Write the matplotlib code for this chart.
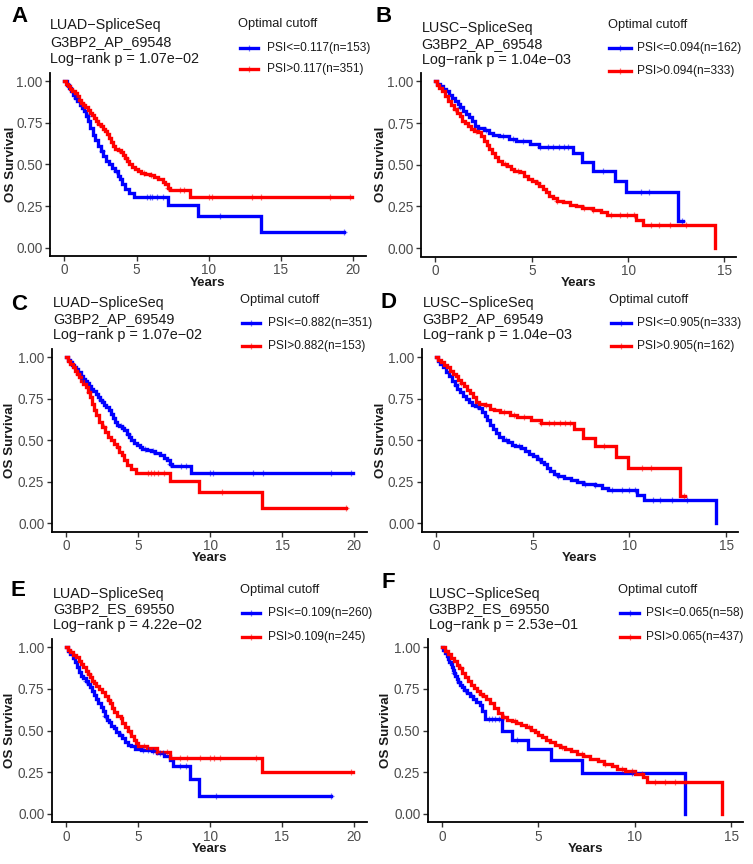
import numpy as np
import matplotlib
matplotlib.use("Agg")
import matplotlib.pyplot as plt
from matplotlib.lines import Line2D

plt.rcParams['font.family'] = ['Liberation Sans', 'DejaVu Sans']

# ---------------- data (step times, survival after step, end time, censor times) -------------
# LUAD G3BP2_AP_69548 : low PSI group (n=153)
luad_ap_low_t = [0, 0.15, 0.3, 0.45, 0.6, 0.75, 0.9, 1.05, 1.2, 1.35, 1.5, 1.65, 1.8, 1.95, 2.1, 2.3,
                 2.5, 2.7, 2.9, 3.1, 3.3, 3.5, 3.7, 3.85, 4.0, 4.2, 4.5, 4.85, 7.2, 9.25, 13.6]
luad_ap_low_s = [1.0, 0.98, 0.96, 0.94, 0.92, 0.90, 0.88, 0.86, 0.84, 0.82, 0.79, 0.76, 0.72, 0.68, 0.65, 0.61,
                 0.58, 0.55, 0.52, 0.50, 0.48, 0.46, 0.43, 0.41, 0.38, 0.35, 0.33, 0.305, 0.255, 0.19, 0.095]
luad_ap_low_end = 19.4
luad_ap_low_cens = [0.8, 1.6, 2.6, 3.6, 5.7, 5.9, 6.1, 6.4, 6.8, 10.8, 19.4]

# LUAD G3BP2_AP_69548 : high PSI group (n=351)
luad_ap_high_t = [0, 0.1, 0.25, 0.4, 0.55, 0.7, 0.85, 1.0, 1.15, 1.3, 1.45, 1.6, 1.75, 1.9, 2.05, 2.2, 2.35,
                  2.5, 2.65, 2.8, 2.95, 3.1, 3.25, 3.4, 3.5, 3.7, 3.9, 4.05, 4.2, 4.35, 4.5, 4.7, 4.9, 5.1,
                  5.3, 5.6, 5.9, 6.2, 6.5, 6.8, 7.0, 7.2, 7.35, 8.7]
luad_ap_high_s = [1.0, 0.985, 0.97, 0.955, 0.94, 0.93, 0.91, 0.89, 0.87, 0.855, 0.845, 0.83, 0.81, 0.795, 0.78,
                  0.76, 0.745, 0.73, 0.715, 0.70, 0.685, 0.66, 0.635, 0.61, 0.595, 0.585, 0.575, 0.56, 0.54,
                  0.52, 0.505, 0.485, 0.47, 0.46, 0.45, 0.44, 0.435, 0.425, 0.41, 0.395, 0.38, 0.36, 0.345, 0.305]
luad_ap_high_end = 19.9
luad_ap_high_cens = [1.2, 2.4, 3.8, 4.3, 5.5, 6.0, 7.2, 8.0, 8.3, 10.0, 10.2, 13.0, 13.65, 18.4, 19.8]

# LUSC G3BP2_AP_69548 : low PSI group (n=162)
lusc_ap_low_t = [0, 0.1, 0.25, 0.4, 0.55, 0.7, 0.85, 1.0, 1.15, 1.3, 1.45, 1.6, 1.75, 1.9, 2.05, 2.2, 2.5,
                 2.8, 3.0, 3.3, 3.8, 4.2, 4.9, 5.4, 7.15, 7.6, 8.2, 9.3, 9.9, 12.6]
lusc_ap_low_s = [1.0, 0.985, 0.97, 0.955, 0.94, 0.92, 0.90, 0.885, 0.865, 0.845, 0.825, 0.805, 0.785, 0.76,
                 0.73, 0.72, 0.71, 0.69, 0.68, 0.67, 0.655, 0.64, 0.625, 0.605, 0.57, 0.515, 0.465, 0.40,
                 0.335, 0.165]
lusc_ap_low_end = 12.85
lusc_ap_low_cens = [1.3, 2.6, 3.5, 4.0, 4.56, 5.43, 5.86, 6.1, 6.4, 6.65, 6.9, 8.7, 10.65, 11.1, 12.8]

# LUSC G3BP2_AP_69548 : high PSI group (n=333)
lusc_ap_high_t = [0, 0.1, 0.2, 0.35, 0.5, 0.65, 0.8, 0.95, 1.1, 1.25, 1.4, 1.55, 1.7, 1.85, 2.0, 2.2, 2.35,
                  2.5, 2.65, 2.8, 2.95, 3.1, 3.25, 3.45, 3.7, 3.9, 4.1, 4.4, 4.6, 4.8, 5.0, 5.2, 5.4, 5.6,
                  5.75, 5.9, 6.1, 6.3, 6.6, 7.0, 7.3, 7.6, 8.2, 8.6, 8.9, 10.4, 10.75, 14.5]
lusc_ap_high_s = [1.0, 0.98, 0.96, 0.94, 0.91, 0.885, 0.86, 0.835, 0.81, 0.79, 0.765, 0.75, 0.73, 0.715,
                  0.705, 0.695, 0.67, 0.645, 0.62, 0.595, 0.57, 0.545, 0.52, 0.505, 0.49, 0.475, 0.465,
                  0.455, 0.435, 0.415, 0.405, 0.39, 0.37, 0.355, 0.335, 0.315, 0.30, 0.285, 0.275, 0.26,
                  0.25, 0.24, 0.23, 0.215, 0.20, 0.17, 0.14, 0.0]
lusc_ap_high_end = 14.5
lusc_ap_high_cens = [1.0, 2.1, 3.6, 4.3, 5.3, 6.3, 7.7, 8.2, 9.1, 9.6, 9.95, 10.3, 11.2, 11.6, 12.2, 13.0]

# LUAD G3BP2_ES_69550 : low (n=260), high (n=245)
luad_es_low_t = [0, 0.15, 0.3, 0.45, 0.6, 0.75, 0.9, 1.05, 1.2, 1.35, 1.5, 1.65, 1.8, 1.95, 2.1, 2.25, 2.4,
                 2.55, 2.7, 2.85, 3.0, 3.15, 3.3, 3.5, 3.7, 3.9, 4.1, 4.3, 4.5, 4.8, 5.2, 6.0, 6.3, 6.8,
                 7.2, 7.4, 8.6, 9.2]
luad_es_low_s = [1.0, 0.98, 0.96, 0.935, 0.91, 0.88, 0.85, 0.83, 0.815, 0.80, 0.78, 0.76, 0.74, 0.715, 0.69,
                 0.665, 0.64, 0.615, 0.59, 0.565, 0.55, 0.53, 0.515, 0.49, 0.475, 0.455, 0.43, 0.415,
                 0.405, 0.39, 0.385, 0.375, 0.365, 0.35, 0.325, 0.285, 0.21, 0.105]
luad_es_low_end = 18.4
luad_es_low_cens = [1.4, 2.7, 3.8, 5.36, 5.7, 6.06, 6.5, 6.76, 7.9, 8.3, 10.4, 18.4]

luad_es_high_t = [0, 0.15, 0.3, 0.5, 0.7, 0.9, 1.05, 1.2, 1.35, 1.5, 1.65, 1.8, 1.95, 2.1, 2.3, 2.5, 2.7,
                  2.9, 3.05, 3.2, 3.35, 3.55, 3.8, 3.9, 4.1, 4.3, 4.5, 4.7, 4.85, 5.0, 5.6, 6.3, 7.2, 13.6]
luad_es_high_s = [1.0, 0.985, 0.97, 0.955, 0.94, 0.92, 0.90, 0.88, 0.86, 0.84, 0.82, 0.80, 0.785, 0.77,
                  0.75, 0.73, 0.705, 0.685, 0.665, 0.635, 0.61, 0.59, 0.575, 0.545, 0.52, 0.495, 0.47,
                  0.445, 0.425, 0.41, 0.395, 0.37, 0.335, 0.25]
luad_es_high_end = 19.9
luad_es_high_cens = [1.6, 3.0, 4.4, 5.4, 6.3, 7.0, 7.9, 8.4, 9.3, 10.0, 10.26, 10.7, 13.2, 19.8]

# LUSC G3BP2_ES_69550 : low (n=58), high (n=437)
lusc_es_low_t = [0, 0.05, 0.15, 0.25, 0.32, 0.38, 0.45, 0.5, 0.55, 0.6, 0.68, 0.75, 0.82, 0.95, 1.05, 1.15,
                 1.3, 1.45, 1.6, 1.75, 1.95, 2.05, 2.2, 3.1, 3.6, 4.45, 5.65, 7.25, 12.6]
lusc_es_low_s = [1.0, 0.983, 0.966, 0.948, 0.931, 0.914, 0.897, 0.879, 0.862, 0.845, 0.828, 0.81, 0.793,
                 0.776, 0.759, 0.741, 0.724, 0.707, 0.69, 0.673, 0.655, 0.615, 0.572, 0.50, 0.445, 0.39,
                 0.325, 0.245, 0.0]
lusc_es_low_end = 12.6
lusc_es_low_cens = [0.6, 0.86, 1.2, 1.55, 2.42, 2.6, 2.76, 2.94, 3.9, 9.85]

lusc_es_high_t = [0, 0.15, 0.3, 0.45, 0.6, 0.75, 0.9, 1.05, 1.2, 1.35, 1.5, 1.65, 1.8, 1.95, 2.1, 2.3, 2.5,
                  2.7, 2.9, 3.1, 3.35, 3.6, 3.85, 4.1, 4.35, 4.6, 4.8, 5.0, 5.2, 5.4, 5.6, 5.85, 6.1, 6.4,
                  6.7, 7.0, 7.3, 7.7, 8.1, 8.4, 8.8, 9.1, 9.5, 10.0, 10.4, 10.65, 14.5]
lusc_es_high_s = [1.0, 0.98, 0.96, 0.935, 0.915, 0.895, 0.875, 0.845, 0.82, 0.795, 0.775, 0.755, 0.735,
                  0.72, 0.705, 0.69, 0.665, 0.635, 0.605, 0.58, 0.565, 0.555, 0.545, 0.535, 0.52, 0.505,
                  0.49, 0.475, 0.46, 0.445, 0.43, 0.415, 0.40, 0.39, 0.375, 0.36, 0.345, 0.33, 0.315,
                  0.30, 0.285, 0.27, 0.255, 0.24, 0.22, 0.19, 0.0]
lusc_es_high_end = 14.5
lusc_es_high_cens = [1.0, 2.0, 3.2, 3.8, 4.5, 6.2, 7.26, 8.47, 9.33, 9.85, 10.37, 11.06, 11.58, 12.1, 12.6]

panel_letters = ["A", "B", "C", "D", "E", "F"]
panel_titles = [
    ["LUAD\u2212SpliceSeq", "G3BP2_AP_69548", "Log\u2212rank p = 1.07e\u221202"],
    ["LUSC\u2212SpliceSeq", "G3BP2_AP_69548", "Log\u2212rank p = 1.04e\u221203"],
    ["LUAD\u2212SpliceSeq", "G3BP2_AP_69549", "Log\u2212rank p = 1.07e\u221202"],
    ["LUSC\u2212SpliceSeq", "G3BP2_AP_69549", "Log\u2212rank p = 1.04e\u221203"],
    ["LUAD\u2212SpliceSeq", "G3BP2_ES_69550", "Log\u2212rank p = 4.22e\u221202"],
    ["LUSC\u2212SpliceSeq", "G3BP2_ES_69550", "Log\u2212rank p = 2.53e\u221201"],
]
legend_labels = [
    ["PSI<=0.117(n=153)", "PSI>0.117(n=351)"],
    ["PSI<=0.094(n=162)", "PSI>0.094(n=333)"],
    ["PSI<=0.882(n=351)", "PSI>0.882(n=153)"],
    ["PSI<=0.905(n=333)", "PSI>0.905(n=162)"],
    ["PSI<=0.109(n=260)", "PSI>0.109(n=245)"],
    ["PSI<=0.065(n=58)", "PSI>0.065(n=437)"],
]
# (blue curve, red curve) per panel; C and D are the complementary PSI splits of A and B
panel_curves = [
    ((luad_ap_low_t, luad_ap_low_s, luad_ap_low_end, luad_ap_low_cens),
     (luad_ap_high_t, luad_ap_high_s, luad_ap_high_end, luad_ap_high_cens)),
    ((lusc_ap_low_t, lusc_ap_low_s, lusc_ap_low_end, lusc_ap_low_cens),
     (lusc_ap_high_t, lusc_ap_high_s, lusc_ap_high_end, lusc_ap_high_cens)),
    ((luad_ap_high_t, luad_ap_high_s, luad_ap_high_end, luad_ap_high_cens),
     (luad_ap_low_t, luad_ap_low_s, luad_ap_low_end, luad_ap_low_cens)),
    ((lusc_ap_high_t, lusc_ap_high_s, lusc_ap_high_end, lusc_ap_high_cens),
     (lusc_ap_low_t, lusc_ap_low_s, lusc_ap_low_end, lusc_ap_low_cens)),
    ((luad_es_low_t, luad_es_low_s, luad_es_low_end, luad_es_low_cens),
     (luad_es_high_t, luad_es_high_s, luad_es_high_end, luad_es_high_cens)),
    ((lusc_es_low_t, lusc_es_low_s, lusc_es_low_end, lusc_es_low_cens),
     (lusc_es_high_t, lusc_es_high_s, lusc_es_high_end, lusc_es_high_cens)),
]
x_ticks_long = [0, 5, 10, 15, 20]
x_ticks_short = [0, 5, 10, 15]
y_ticks = [0.0, 0.25, 0.5, 0.75, 1.0]

# ---------------- layout (pixels) ----------------
W, H = 753, 864
fig = plt.figure(figsize=(W / 100, H / 100), dpi=100)
fig.patch.set_facecolor("white")

def fx(x):
    return x / W

def fy(y):
    return 1 - y / H

# left, right, top, bottom in pixels
axes_px = [(50, 366, 73, 256), (421, 736, 73, 256.5),
           (51.7, 367.3, 349, 531.7), (421.7, 737.7, 349, 531.7),
           (51.7, 367, 639, 822.3), (427.7, 742.7, 639, 822.3)]
xlims = [(-1.0, 20.9), (-0.75, 15.6), (-1.0, 20.9), (-0.75, 15.6), (-1.0, 20.9), (-0.75, 15.6)]
xticks_list = [x_ticks_long, x_ticks_short, x_ticks_long, x_ticks_short, x_ticks_long, x_ticks_short]

letter_pos = [(19.5, 17), (383.5, 16), (19, 305), (388, 303), (18, 590), (388, 582)]
title_pos = [(50, [25, 42.5, 59]), (421.7, [28, 44, 60]),
             (53.3, [303.3, 319.3, 335]), (422.7, [303.3, 319.3, 335]),
             (53.3, [594, 609.3, 625]), (428.7, [594, 609.3, 625])]
# legend: title x, title y, line x0, line x1, text x, entry ys
legend_pos = [(238.3, 24, 240, 258.3, 266.7, [47.7, 69.3]),
              (608.3, 25, 609.3, 630.5, 637, [48.3, 71]),
              (240, 300, 241.7, 260, 268.3, [323.3, 346]),
              (609.3, 300, 611, 631, 637, [323.3, 346]),
              (240, 590, 241.7, 260, 268.3, [613.3, 636.7]),
              (618.3, 590, 620, 639.3, 646, [613.3, 636.7])]
ylabel_x = [10.7, 381, 10.5, 381, 10.5, 386]

colors = ["#0000FF", "#FF0000"]


def draw_km(ax, t, s, end, cens, color):
    xs = list(t) + [end]
    ys = list(s) + [s[-1]]
    ax.step(xs, ys, where="post", color=color, lw=2.4, solid_joinstyle="miter", zorder=3)
    c = np.asarray(cens, dtype=float)
    idx = np.searchsorted(np.asarray(t, dtype=float), c, side="right") - 1
    cy = np.asarray(s)[idx]
    ax.plot(c, cy, linestyle="none", marker="+", color=color, ms=5, mew=0.9, alpha=0.55, zorder=4)


for i in range(6):
    l, r, t, b = axes_px[i]
    ax = fig.add_axes([fx(l), fy(b), (r - l) / W, (b - t) / H])
    for j, curve in enumerate(panel_curves[i]):
        draw_km(ax, *curve, colors[j])
    ax.set_xlim(*xlims[i])
    ax.set_ylim(-0.05, 1.05)
    ax.set_xticks(xticks_list[i])
    ax.set_yticks(y_ticks)
    ax.set_yticklabels(["%.2f" % v for v in y_ticks])
    for sp in ["top", "right"]:
        ax.spines[sp].set_visible(False)
    for sp in ["left", "bottom"]:
        ax.spines[sp].set_linewidth(1.3)
        ax.spines[sp].set_color("black")
    ax.tick_params(length=3.5, width=1.0, color="#333333", labelcolor="#4D4D4D",
                   labelsize=9.8, pad=1.8)
    # axis titles
    fig.text(fx((l + r) / 2), fy(b + 26.5), "Years", ha="center", va="center",
             fontsize=9.6, fontweight="bold", color="#1a1a1a")
    fig.text(fx(ylabel_x[i]), fy((t + b) / 2), "OS Survival", ha="center", va="center",
             rotation=90, fontsize=9.6, fontweight="bold", color="#1a1a1a")
    # panel letter
    lx, ly = letter_pos[i]
    fig.text(fx(lx), fy(ly), panel_letters[i], ha="center", va="center",
             fontsize=16, fontweight="bold", color="black")
    # title lines
    tx, tys = title_pos[i]
    for line, tyy in zip(panel_titles[i], tys):
        fig.text(fx(tx), fy(tyy), line, ha="left", va="center", fontsize=10.4, color="#1a1a1a")
    # legend
    ltx, lty, x0, x1, xt, eys = legend_pos[i]
    fig.text(fx(ltx), fy(lty), "Optimal cutoff", ha="left", va="center", fontsize=9.3, color="#1a1a1a")
    for j, ey in enumerate(eys):
        fig.add_artist(Line2D([fx(x0), fx(x1)], [fy(ey), fy(ey)], color=colors[j], lw=2.4,
                              transform=fig.transFigure))
        fig.add_artist(Line2D([fx((x0 + x1) / 2)], [fy(ey)], color=colors[j], marker="+", ms=5,
                              mew=0.9, alpha=0.55, linestyle="none", transform=fig.transFigure))
        fig.text(fx(xt), fy(ey), legend_labels[i][j], ha="left", va="center", fontsize=8.6,
                 color="#1a1a1a")

fig.savefig("out.png", dpi=100, facecolor="white")
